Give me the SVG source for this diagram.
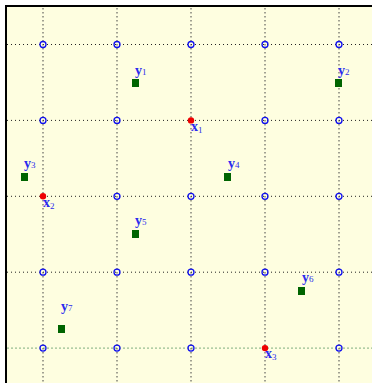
<svg xmlns="http://www.w3.org/2000/svg" width="372" height="383" viewBox="0 0 372 383">
<style>
.h{stroke:#222;stroke-width:1;stroke-dasharray:1 3;fill:none}
.v{stroke:#444;stroke-width:1;stroke-dasharray:1.5 2.5;fill:none}
.g{stroke:#7fae7f;stroke-width:1;stroke-dasharray:2 2;fill:none}
.c{fill:none;stroke:#1010ee;stroke-width:1.3}
.r{fill:#ee0000}
.s{fill:#006400}
.t{font-family:"Liberation Serif","DejaVu Serif",serif;font-weight:bold;font-size:14px;fill:#2a2aee}
.t tspan{font-size:9px;font-weight:normal}
</style>
<rect x="0" y="0" width="372" height="383" fill="#ffffff"/>
<rect x="6" y="6" width="380" height="390" fill="#fefee0" stroke="#000" stroke-width="2"/>
<g id="connectors">
<line class="h" x1="7" y1="44.5" x2="372" y2="44.5"/>
<line class="h" x1="7" y1="120.4" x2="372" y2="120.4"/>
<line class="h" x1="7" y1="196.3" x2="372" y2="196.3"/>
<line class="h" x1="7" y1="272.2" x2="372" y2="272.2"/>
<line class="g" x1="7" y1="348.1" x2="372" y2="348.1"/>
<line class="v" x1="43" y1="8" x2="43" y2="383"/>
<line class="v" x1="117" y1="8" x2="117" y2="383"/>
<line class="v" x1="191" y1="8" x2="191" y2="383"/>
<line class="v" x1="265" y1="8" x2="265" y2="383"/>
<line class="v" x1="339" y1="8" x2="339" y2="383"/>
</g>
<g id="grid-nodes">
<circle class="c" cx="43" cy="44.5" r="3"/><circle class="c" cx="117" cy="44.5" r="3"/><circle class="c" cx="191" cy="44.5" r="3"/><circle class="c" cx="265" cy="44.5" r="3"/><circle class="c" cx="339" cy="44.5" r="3"/>
<circle class="c" cx="43" cy="120.4" r="3"/><circle class="c" cx="117" cy="120.4" r="3"/><circle class="c" cx="265" cy="120.4" r="3"/><circle class="c" cx="339" cy="120.4" r="3"/>
<circle class="c" cx="117" cy="196.3" r="3"/><circle class="c" cx="191" cy="196.3" r="3"/><circle class="c" cx="265" cy="196.3" r="3"/><circle class="c" cx="339" cy="196.3" r="3"/>
<circle class="c" cx="43" cy="272.2" r="3"/><circle class="c" cx="117" cy="272.2" r="3"/><circle class="c" cx="191" cy="272.2" r="3"/><circle class="c" cx="265" cy="272.2" r="3"/><circle class="c" cx="339" cy="272.2" r="3"/>
<circle class="c" cx="43" cy="348.1" r="3"/><circle class="c" cx="117" cy="348.1" r="3"/><circle class="c" cx="191" cy="348.1" r="3"/><circle class="c" cx="339" cy="348.1" r="3"/>
</g>
<g id="x1"><circle class="r" cx="191" cy="120.4" r="3.2"/><text class="t" x="191" y="131">x<tspan dy="2">1</tspan></text></g>
<g id="x2"><circle class="r" cx="43" cy="196.3" r="3.2"/><text class="t" x="43" y="207">x<tspan dy="2">2</tspan></text></g>
<g id="x3"><circle class="r" cx="265" cy="348.1" r="3.2"/><text class="t" x="265" y="358">x<tspan dy="2">3</tspan></text></g>
<g id="y1"><rect class="s" x="132" y="79" width="7" height="8"/><text class="t" x="135" y="75">y<tspan dy="0">1</tspan></text></g>
<g id="y2"><rect class="s" x="335" y="79" width="7" height="8"/><text class="t" x="338" y="75">y<tspan dy="0">2</tspan></text></g>
<g id="y3"><rect class="s" x="21" y="173" width="7" height="8"/><text class="t" x="24" y="168">y<tspan dy="0">3</tspan></text></g>
<g id="y4"><rect class="s" x="224" y="173" width="7" height="8"/><text class="t" x="228" y="168">y<tspan dy="0">4</tspan></text></g>
<g id="y5"><rect class="s" x="132" y="230" width="7" height="8"/><text class="t" x="135" y="225">y<tspan dy="0">5</tspan></text></g>
<g id="y6"><rect class="s" x="298" y="287" width="7" height="8"/><text class="t" x="302" y="282">y<tspan dy="0">6</tspan></text></g>
<g id="y7"><rect class="s" x="58" y="325" width="7" height="8"/><text class="t" x="61" y="311">y<tspan dy="0">7</tspan></text></g>
</svg>
